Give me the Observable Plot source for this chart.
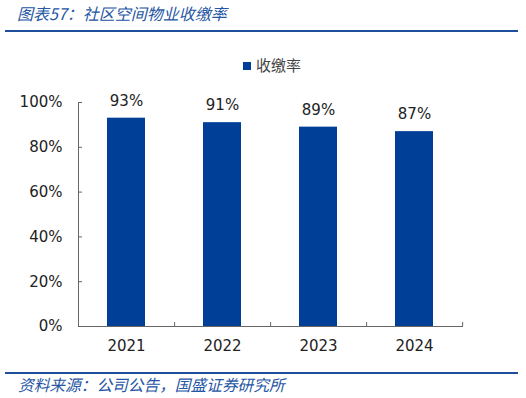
<!DOCTYPE html>
<html><head><meta charset="utf-8">
<script src="https://cdn.jsdelivr.net/npm/d3@7"></script>
<script src="https://cdn.jsdelivr.net/npm/@observablehq/plot@0.6"></script>
<style>
body{margin:0;background:#fff;}
#wrap{position:relative;width:526px;height:398px;overflow:hidden;background:#fff;}
#title{position:absolute;left:17px;top:3px;font:italic 16px "Noto Sans CJK SC",sans-serif;color:#2556a3;white-space:nowrap;line-height:20px;}
.hr{position:absolute;left:5px;width:513px;background:#1f4e9a;}
#legend{position:absolute;left:243px;top:56px;font:15px "Noto Sans CJK SC",sans-serif;color:#444;line-height:18px;white-space:nowrap;}
#legend .sw{display:inline-block;width:8px;height:8px;background:#003f98;margin-right:5px;vertical-align:1px;}
#chart{position:absolute;left:0;top:0;}
#source{position:absolute;left:18px;top:376px;font:italic 15.7px "Noto Sans CJK SC",sans-serif;color:#2556a3;white-space:nowrap;line-height:18px;}
</style></head><body>
<div id="wrap">
  <div id="chart"></div>
  <div id="title">图表57：社区空间物业收缴率</div>
  <div class="hr" style="top:30px;height:2px"></div>
  <div id="legend"><span class="sw"></span>收缴率</div>
  <div class="hr" style="top:372px;height:2px"></div>
  <div id="source">资料来源：公司公告，国盛证券研究所</div>
</div>
<script>
const years = ["2021", "2022", "2023", "2024"];
const rates = [93, 91, 89, 87];
const yTicks = [0, 20, 40, 60, 80, 100];
const seriesName = "收缴率";

const data = years.map((year, i) => ({year, rate: rates[i]}));

const W = 526, H = 398;
const mL = 78, mR = 63, mT = 102, mB = 72;
const halfStep = (W - mL - mR) / years.length / 2;
const axisColor = "#666";
const font = "DejaVu Sans, Verdana, sans-serif";

const chart = Plot.plot({
  width: W,
  height: H,
  marginLeft: mL,
  marginRight: mR,
  marginTop: mT,
  marginBottom: mB,
  style: {fontFamily: font, fontSize: "15px", color: "#222", background: "transparent"},
  x: {type: "band", domain: years, paddingInner: 0.6, paddingOuter: 0.3, label: null},
  y: {domain: [0, 100], label: null},
  marks: [
    Plot.barY(data, {x: "year", y: "rate", fill: "#003f98"}),
    Plot.text(data, {x: "year", y: "rate", text: d => d.rate + "%", dy: -17, fontSize: 15, fill: "#222"}),
    Plot.axisY({ticks: yTicks, tickFormat: d => d + "%", tickSize: 0, tickPadding: 16, fontSize: 15, fill: "#222"}),
    Plot.axisY({ticks: yTicks, tickFormat: () => "", tickSize: 4, dx: 4, stroke: axisColor}),
    Plot.axisX({tickSize: 0, tickPadding: 14, fontSize: 15, fill: "#222"}),
    Plot.axisX({tickFormat: () => "", tickSize: 4, dx: halfStep, dy: -4, stroke: axisColor}),
    Plot.ruleY([0], {stroke: axisColor}),
    Plot.frame({anchor: "left", stroke: axisColor})
  ]
});
document.getElementById("chart").appendChild(chart);
</script>
</body></html>
